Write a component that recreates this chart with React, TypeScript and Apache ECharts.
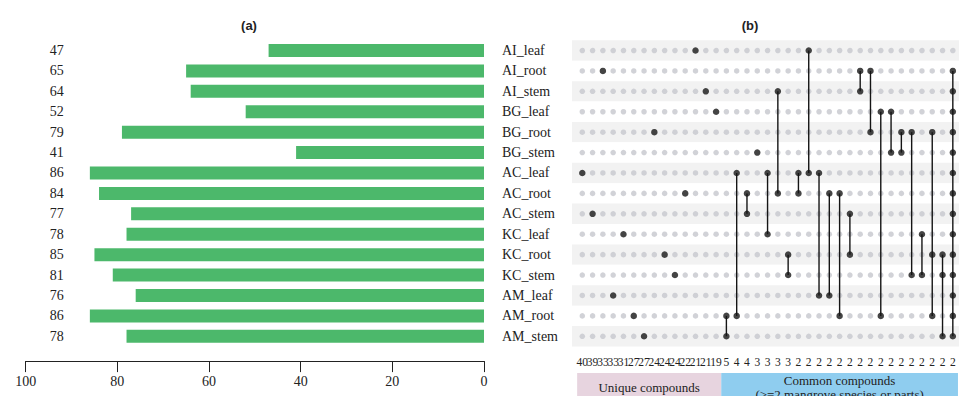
import React, { useEffect, useRef } from 'react';
import * as echarts from 'echarts';

// Sets (mangrove species × plant part), top to bottom
const rowNames = [
  'AI_leaf', 'AI_root', 'AI_stem',
  'BG_leaf', 'BG_root', 'BG_stem',
  'AC_leaf', 'AC_root', 'AC_stem',
  'KC_leaf', 'KC_root', 'KC_stem',
  'AM_leaf', 'AM_root', 'AM_stem',
];

// Number of compounds detected in each set
const setSizes = [47, 65, 64, 52, 79, 41, 86, 84, 77, 78, 85, 81, 76, 86, 78];

// Intersection sizes, one per matrix column
const intersectionCounts = [
  40, 39, 33, 33, 31, 27, 27, 24, 24, 24, 22, 21, 21, 19,
  5, 4, 4, 3, 3, 3, 3,
  2, 2, 2, 2, 2, 2, 2, 2, 2, 2, 2, 2, 2, 2, 2, 2,
];

// Members of each intersection column
const intersectionMembers: string[][] = [
  ['AC_leaf'], ['AC_stem'], ['AI_root'], ['AM_leaf'], ['KC_leaf'], ['AM_root'], ['AM_stem'],
  ['BG_root'], ['KC_root'], ['KC_stem'], ['AC_root'], ['AI_leaf'], ['AI_stem'], ['BG_leaf'],
  ['AM_root', 'AM_stem'],
  ['AC_leaf', 'AM_root'],
  ['AC_root', 'AC_stem'],
  ['BG_stem'],
  ['AC_leaf', 'KC_leaf'],
  ['AI_stem', 'AC_root'],
  ['KC_root', 'KC_stem'],
  ['AC_leaf', 'AC_root'],
  ['AI_leaf', 'AC_leaf'],
  ['AC_leaf', 'AM_leaf'],
  ['AC_root', 'AM_leaf'],
  ['AC_root', 'AM_root'],
  ['AC_stem', 'KC_root'],
  ['AI_root', 'AI_stem'],
  ['AI_root', 'BG_root'],
  ['BG_leaf', 'AM_root'],
  ['BG_leaf', 'BG_stem'],
  ['BG_root', 'BG_stem'],
  ['BG_root', 'KC_stem'],
  ['KC_leaf', 'KC_stem'],
  ['BG_root', 'KC_root', 'AM_root'],
  ['KC_root', 'KC_stem', 'AM_stem'],
  rowNames.filter((n) => n !== 'AI_leaf'),
];

// Column groups shown under the matrix
const groupLabels = ['Unique compounds', 'Common compounds\n(>=2 mangrove species or parts)'];
const groupRanges = [
  [0, 13],
  [14, 36],
];
const groupColors = ['#e7d4df', '#8fcdef'];

const sizeTicks = { min: 0, max: 100, interval: 20 };

const SERIF = 'Liberation Serif';
const SANS = 'Liberation Sans';

export default function App() {
  const ref = useRef<HTMLDivElement>(null);

  useEffect(() => {
    document.body.style.margin = '0';
    const chart = echarts.init(ref.current!, null, { renderer: 'svg' });

    const greyDots: number[][] = [];
    const blackDots: number[][] = [];
    const links: number[][] = [];
    intersectionMembers.forEach((members, c) => {
      const idx = members.map((m) => rowNames.indexOf(m));
      rowNames.forEach((_, r) => {
        if (idx.includes(r)) blackDots.push([c, r]);
        else greyDots.push([c, r]);
      });
      if (idx.length > 1) links.push([c, Math.min(...idx), Math.max(...idx)]);
    });

    const lastRow = rowNames.length - 1;
    const groupData = groupRanges.map((g, i) => [g[0], g[1], lastRow, i]);

    const option: any = {
      animation: false,
      title: [
        {
          text: '(a)', left: 244, top: 14, textAlign: 'center',
          textStyle: { fontFamily: SANS, fontSize: 13, fontWeight: 'bold', color: '#222' },
        },
        {
          text: '(b)', left: 745, top: 14, textAlign: 'center',
          textStyle: { fontFamily: SANS, fontSize: 13, fontWeight: 'bold', color: '#222' },
        },
      ],
      grid: [
        { left: 25.7, right: 478, top: 40.3, height: 306.2 },
        { left: 572, right: 0, top: 40.3, height: 306.2 },
      ],
      xAxis: [
        {
          gridIndex: 0, type: 'value', inverse: true,
          min: sizeTicks.min, max: sizeTicks.max, interval: sizeTicks.interval,
          offset: 14.6,
          axisLine: { show: true, lineStyle: { color: '#222', width: 1 } },
          axisTick: { show: true, length: 11, lineStyle: { color: '#222', width: 1 } },
          axisLabel: { fontFamily: SERIF, fontSize: 14, color: '#222', margin: 13 },
          splitLine: { show: false },
        },
        {
          gridIndex: 1, type: 'value', min: -1, max: 36.6, interval: 1,
          axisLine: { show: false }, axisTick: { show: false }, splitLine: { show: false },
          axisLabel: {
            fontFamily: SERIF, fontSize: 11.5, color: '#222', margin: 9,
            formatter: (v: number) =>
              Number.isInteger(v) && v >= 0 && v < intersectionCounts.length
                ? String(intersectionCounts[v])
                : '',
          },
        },
      ],
      yAxis: [
        {
          gridIndex: 0, type: 'category', data: rowNames, inverse: true,
          axisLine: { show: false }, axisTick: { show: false },
          axisLabel: {
            inside: true, margin: 31, align: 'center',
            fontFamily: SERIF, fontSize: 14, color: '#222',
            formatter: (_v: string, i: number) => String(setSizes[i]),
          },
        },
        {
          gridIndex: 0, type: 'category', data: rowNames, inverse: true, position: 'right',
          axisLine: { show: false }, axisTick: { show: false },
          axisLabel: { margin: 18, align: 'left', fontFamily: SERIF, fontSize: 14, color: '#222' },
        },
        {
          gridIndex: 1, type: 'category', data: rowNames, inverse: true,
          axisLine: { show: false }, axisTick: { show: false }, axisLabel: { show: false },
          splitLine: { show: false },
          splitArea: { show: true, areaStyle: { color: ['#f2f2f2', '#ffffff'] } },
        },
      ],
      series: [
        {
          type: 'bar', xAxisIndex: 0, yAxisIndex: 0,
          data: setSizes, barWidth: 13,
          itemStyle: { color: '#4cb86b' },
        },
        {
          type: 'scatter', xAxisIndex: 1, yAxisIndex: 2,
          data: greyDots, symbolSize: 5.5, z: 2,
          itemStyle: { color: '#c6c7cd' },
        },
        {
          type: 'custom', xAxisIndex: 1, yAxisIndex: 2, z: 3,
          data: links, encode: { x: 0, y: [1, 2] },
          renderItem: (_p: any, api: any) => {
            const c = api.value(0);
            const a = api.coord([c, api.value(1)]);
            const b = api.coord([c, api.value(2)]);
            return {
              type: 'line',
              shape: { x1: a[0], y1: a[1], x2: b[0], y2: b[1] },
              style: { stroke: '#151515', lineWidth: 1.4 },
            };
          },
        },
        {
          type: 'scatter', xAxisIndex: 1, yAxisIndex: 2,
          data: blackDots, symbolSize: 6.5, z: 4,
          itemStyle: { color: '#151515' },
        },
        {
          type: 'custom', xAxisIndex: 1, yAxisIndex: 2, z: 5, clip: false, silent: true,
          data: groupData, encode: { x: [0, 1], y: 2 },
          renderItem: (_p: any, api: any) => {
            const from = api.value(0);
            const to = api.value(1);
            const row = api.value(2);
            const i = api.value(3);
            const band = api.size([0, 1])[1];
            const left = api.coord([from - 0.5, row])[0];
            const right = api.coord([to + 0.5, row])[0];
            const top = api.coord([from, row])[1] + band / 2 + 26.6;
            return {
              type: 'group',
              children: [
                {
                  type: 'rect',
                  shape: { x: left, y: top, width: right - left, height: 40 },
                  style: { fill: groupColors[i] },
                },
                {
                  type: 'text',
                  style: {
                    text: groupLabels[i], x: (left + right) / 2, y: top + 14,
                    align: 'center', verticalAlign: 'middle', lineHeight: 14,
                    fontFamily: SERIF, fontSize: 13, fill: '#222',
                  },
                },
              ],
            };
          },
        },
      ],
    };

    chart.setOption(option);
    return () => chart.dispose();
  }, []);

  return <div ref={ref} style={{ width: 962, height: 396 }} />;
}
